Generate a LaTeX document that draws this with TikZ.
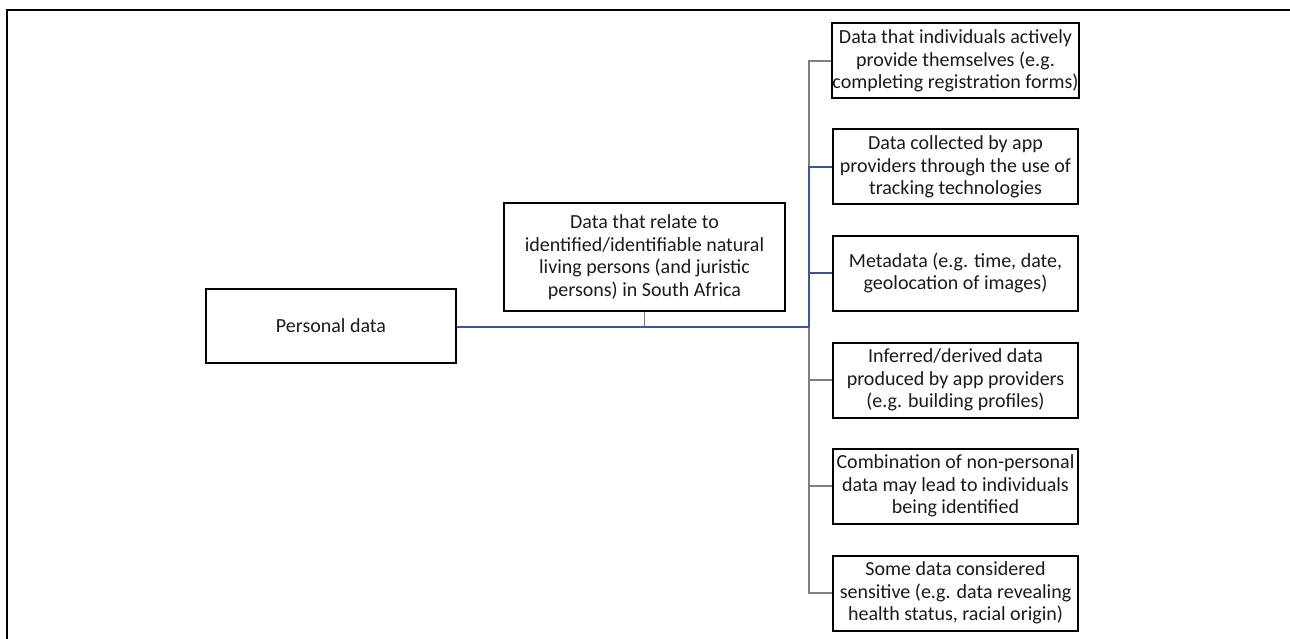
\documentclass[tikz,border=0pt]{standalone}
\usepackage{fontspec}
\setmainfont{Carlito}
\definecolor{linkblue}{HTML}{3A5895}
\definecolor{linkgray}{HTML}{7F7F7F}
\definecolor{txt}{HTML}{1A1A1A}
\begin{document}
\begin{tikzpicture}[x=1pt,y=-1pt,
  box/.style={draw=black,line width=2pt,align=center,inner sep=0pt,
    font=\fontsize{20}{22.5}\selectfont,text=txt},
  rbox/.style={box,minimum width=245pt,minimum height=75pt},
  graylink/.style={draw=linkgray,line width=1.6pt},
  bluelink/.style={draw=linkblue,line width=1.6pt},
  frame/.style={draw=black,line width=1.4pt}]
\useasboundingbox (0,0) rectangle (1290,639);
\draw[frame] (7,639) -- (7,10) -- (1290,10);

\node[box,minimum width=250pt,minimum height=74pt] (pd) at (331,326) {Personal data};
\node[box,minimum width=281pt,minimum height=108pt] (mid) at (644.5,257)
  {Data that relate to\\identified/identifiable natural\\living persons (and juristic\\persons) in South Africa};

\node[rbox] (r1) at (955.5,61) {Data that individuals actively\\provide themselves (e.g.\\completing registration forms)};
\node[rbox] (r2) at (955.5,167) {Data collected by app\\providers through the use of\\tracking technologies};
\node[rbox] (r3) at (955.5,273) {Metadata (e.g. time, date,\\geolocation of images)};
\node[rbox] (r4) at (955.5,380) {Inferred/derived data\\produced by app providers\\(e.g. building profiles)};
\node[rbox] (r5) at (955.5,486) {Combination of non-personal\\data may lead to individuals\\being identified};
\node[rbox] (r6) at (955.5,593) {Some data considered\\sensitive (e.g. data revealing\\health status, racial origin)};

\coordinate (hub) at (809,327);

\draw[graylink] (hub) |- (r1.west);
\draw[graylink] (hub) |- (r4.west);
\draw[graylink] (hub) |- (r5.west);
\draw[graylink] (hub) |- (r6.west);
\draw[graylink] (mid.south) -- (mid.south |- hub);
\draw[bluelink] (hub) |- (r2.west);
\draw[bluelink] (hub) |- (r3.west);
\draw[draw=linkblue,line width=2.2pt] (pd.east |- hub) -- (hub);
\end{tikzpicture}
\end{document}
